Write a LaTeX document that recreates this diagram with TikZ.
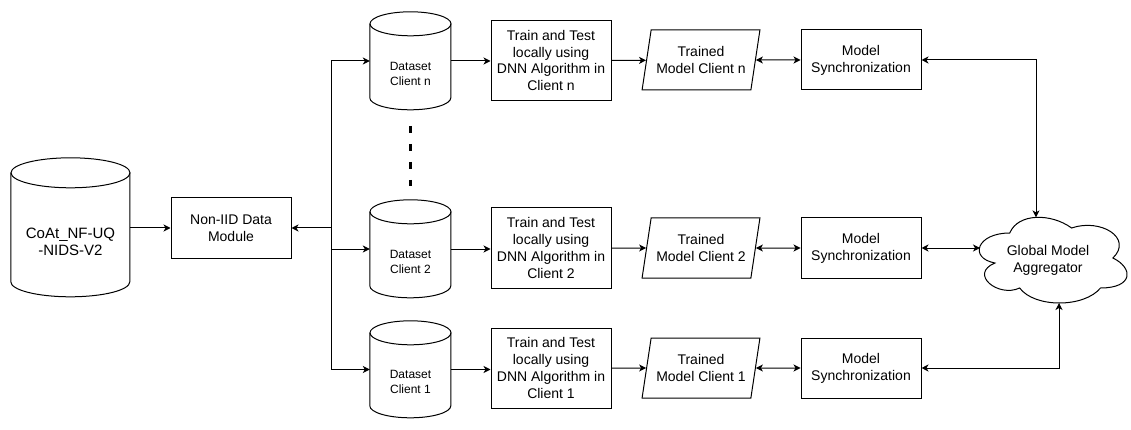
\documentclass[tikz,border=0pt]{standalone}
\usepackage{fontspec}
\setmainfont{Liberation Sans}
\usetikzlibrary{arrows.meta,shapes.geometric}
\tikzset{
  base/.style={inner sep=0pt, align=center, font=\fontsize{14}{16.8}\selectfont},
  boxnode/.style={base, draw, line width=1pt, minimum width=120pt},
  paranode/.style={base, draw, line width=1pt, trapezium, trapezium left angle=73.3,
    trapezium right angle=106.7, trapezium stretches=true, minimum width=118pt, minimum height=60pt},
  dbnode/.style={base, rectangle},
  outline/.style={line width=1pt},
  tip/.tip={Stealth[length=7pt,width=7pt,inset=2pt]},
  conn/.style={line width=1pt, -tip},
  dconn/.style={line width=1pt, tip-tip},
  dashline/.style={line width=3pt, dash pattern=on 7pt off 11pt}
}
\newcommand\dbshape[6]{%
  \node[dbnode, minimum width=#4pt, minimum height=#5pt] (#1) at (#2,#3) {};
  \draw[outline] (#1.north west) ++(0,#6) -- ++(0,{#5-2*#6})
     arc[start angle=180, end angle=360, x radius={#4*0.5pt}, y radius={#6*1pt}]
     -- ++(0,{-#5+2*#6});
  \draw[outline] (#1.north) ++(0,#6) ellipse[x radius={#4*0.5pt}, y radius={#6*1pt}];
}
\begin{document}
\begin{tikzpicture}[x=1pt,y=-1pt]
\useasboundingbox[fill=white] (0,0) rectangle (1131,430);

% source database
\dbshape{src}{70.5}{227.5}{119}{139}{15}
\node[base, font=\fontsize{15}{16.8}\selectfont] (srct) at (70.5,242) {CoAt\_NF-UQ\\-NIDS-V2};

\node[boxnode, minimum height=60pt] (noniid) at (231,228) {Non-IID Data\\Module};

% client datasets
\dbshape{dsn}{410.5}{61}{81}{98}{12}
\node[base, font=\fontsize{12}{15}\selectfont] (dsnt) at (410.5,73.5) {Dataset\\Client n};
\dbshape{dstwo}{410.5}{249}{81}{98}{12}
\node[base, font=\fontsize{12}{15}\selectfont] (dstwot) at (410.5,261.5) {Dataset\\Client 2};
\dbshape{dsone}{410.5}{369.5}{81}{97}{12}
\node[base, font=\fontsize{12}{15}\selectfont] (dsonet) at (410.5,381.5) {Dataset\\Client 1};

% train boxes
\node[boxnode, minimum height=80pt] (trn) at (551,60.5) {Train and Test\\locally using\\DNN Algorithm in\\Client n};
\node[boxnode, minimum height=80pt] (trtwo) at (551,248) {Train and Test\\locally using\\DNN Algorithm in\\Client 2};
\node[boxnode, minimum height=80pt] (trone) at (551,368) {Train and Test\\locally using\\DNN Algorithm in\\Client 1};

% trained models
\node[paranode] (pan) at (701,60) {Trained\\Model Client n};
\node[paranode] (patwo) at (701,248) {Trained\\Model Client 2};
\node[paranode] (paone) at (701,368) {Trained\\Model Client 1};

% synchronization
\node[boxnode, minimum height=60pt] (syn) at (861,60) {Model\\Synchronization};
\node[boxnode, minimum height=60pt] (sytwo) at (861,248) {Model\\Synchronization};
\node[boxnode, minimum height=60pt] (syone) at (861,368) {Model\\Synchronization};

% cloud (global model aggregator)
\draw[outline] (1009.75,233)
  .. controls (976.75,233) and (968.5,258) .. (994.9,263)
  .. controls (968.5,274) and (998.2,298) .. (1019.65,288)
  .. controls (1034.5,308) and (1084,308) .. (1100.5,288)
  .. controls (1133.5,288) and (1133.5,268) .. (1112.9,258)
  .. controls (1133.5,238) and (1100.5,218) .. (1071.6,228)
  .. controls (1051,213) and (1018,213) .. (1009.75,233) -- cycle;
\node[base] (agg) at (1048,260) {Global Model\\Aggregator};
\coordinate (cloudtop) at (1036,217.4);
\coordinate (cloudleft) at (980,248);
\coordinate (cloudbot) at (1059,303);

% dashed ellipsis
\coordinate (dashA) at (410,126);
\coordinate (dashB) at (410,186);
\draw[dashline] (dashA) -- (dashB);

% connectors
\coordinate (trunk) at (331,228);
\draw[conn] (src.east |- noniid) -- (noniid.west);
\draw[conn] (trunk) -- (noniid.east);
\draw[conn] (trunk) |- (dsn.west);
\draw[conn] (trunk) |- (dstwo.west);
\draw[conn] (trunk) |- (dsone.west);

\draw[conn] (dsn.east) -- (trn.west |- dsn.east);
\draw[conn] (dstwo.east) -- (trtwo.west |- dstwo.east);
\draw[conn] (dsone.east) -- (trone.west |- dsone.east);

\draw[conn] (trn.east) -- (pan);
\draw[conn] (trtwo.east) -- (patwo);
\draw[conn] (trone.east) -- (paone);

\draw[dconn] (pan) -- (syn.west);
\draw[dconn] (patwo) -- (sytwo.west);
\draw[dconn] (paone) -- (syone.west);

\draw[dconn] (syn.east) -| (cloudtop);
\draw[dconn] (sytwo.east) -- (cloudleft);
\draw[dconn] (syone.east) -| (cloudbot);
\end{tikzpicture}
\end{document}
